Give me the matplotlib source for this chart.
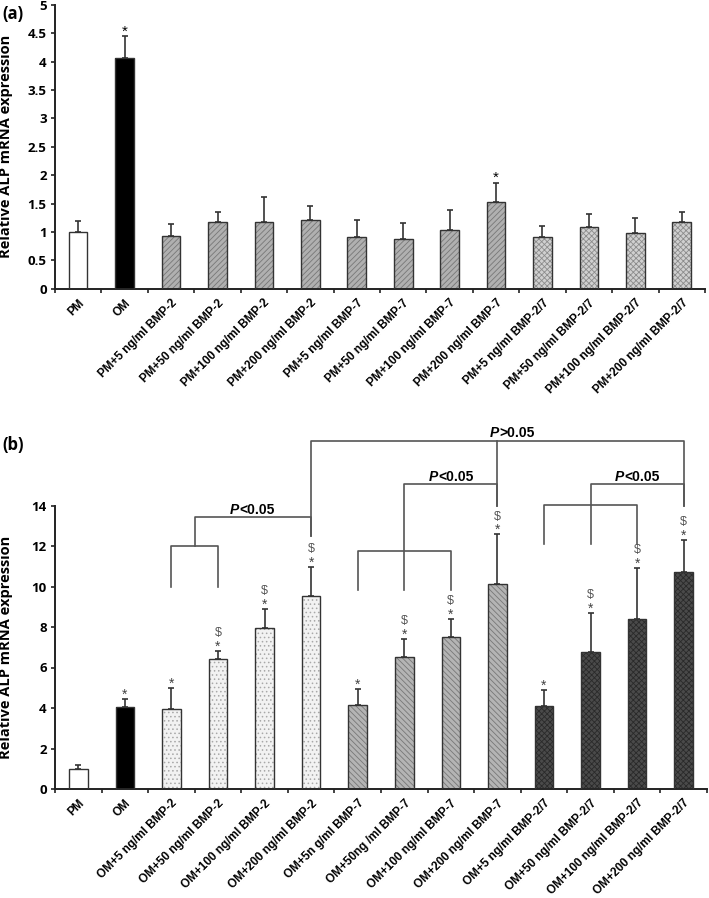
import numpy as np
import matplotlib
matplotlib.use("Agg")
import matplotlib.pyplot as plt

plt.rcParams['hatch.linewidth'] = 0.6

# panel (a) data
cats_a = ['PM', 'OM',
          'PM+5 ng/ml BMP-2', 'PM+50 ng/ml BMP-2', 'PM+100 ng/ml BMP-2', 'PM+200 ng/ml BMP-2',
          'PM+5 ng/ml BMP-7', 'PM+50 ng/ml BMP-7', 'PM+100 ng/ml BMP-7', 'PM+200 ng/ml BMP-7',
          'PM+5 ng/ml BMP-2/7', 'PM+50 ng/ml BMP-2/7', 'PM+100 ng/ml BMP-2/7', 'PM+200 ng/ml BMP-2/7']
vals_a = [1.0, 4.07, 0.93, 1.18, 1.18, 1.21, 0.91, 0.88, 1.04, 1.53, 0.91, 1.08, 0.98, 1.18]
err_a = [0.2, 0.38, 0.21, 0.17, 0.44, 0.24, 0.30, 0.27, 0.34, 0.34, 0.20, 0.23, 0.26, 0.17]
star_a = [1, 9]

# panel (b) data
cats_b = ['PM', 'OM',
          'OM+5 ng/ml BMP-2', 'OM+50 ng/ml BMP-2', 'OM+100 ng/ml BMP-2', 'OM+200 ng/ml BMP-2',
          'OM+5n g/ml BMP-7', 'OM+50ng /ml BMP-7', 'OM+100 ng/ml BMP-7', 'OM+200 ng/ml BMP-7',
          'OM+5 ng/ml BMP-2/7', 'OM+50 ng/ml BMP-2/7', 'OM+100 ng/ml BMP-2/7', 'OM+200 ng/ml BMP-2/7']
vals_b = [1.0, 4.07, 3.93, 6.42, 7.97, 9.53, 4.13, 6.52, 7.49, 10.1, 4.1, 6.75, 8.38, 10.73]
err_b = [0.2, 0.37, 1.07, 0.38, 0.92, 1.45, 0.82, 0.89, 0.92, 2.47, 0.80, 1.94, 2.52, 1.59]
star_b = list(range(1, 14))
dollar_b = [3, 4, 5, 7, 8, 9, 11, 12, 13]

# comparison brackets in (b): polylines (x, y) and p-value labels
brackets_b = [
    ([2, 2, 3, 3], [10, 12, 12, 10]),
    ([2.5, 2.5, 5, 5], [12, 13.43, 13.43, 12.49]),
    ([6, 6, 8, 8], [9.83, 11.75, 11.75, 9.83]),
    ([7, 7, 9, 9], [9.83, 15.05, 15.05, 14.0]),
    ([10, 10, 12, 12], [12.1, 14.02, 14.02, 12.1]),
    ([11, 11, 13, 13], [12.1, 15.05, 15.05, 14.0]),
    ([5, 5, 13, 13], [12.49, 17.19, 17.19, 14.0]),
    ([9, 9], [14.0, 17.19]),
]
plabels_b = [('<0.05', 3.74, 13.43), ('<0.05', 8.0, 15.05),
             ('<0.05', 12.0, 15.05), ('>0.05', 9.32, 17.19)]

# styles: (face, hatch, hatch colour)
st_pm = ('white', '', 'white')
st_om = ('black', '', 'black')
styles_a = [st_pm, st_om] + [('#b0b0b0', '//////', '#777777')] * 8 + [('#d0d0d0', 'xxxxxx', '#8c8c8c')] * 4
styles_b = [st_pm, st_om] + [('#f2f2f2', '....', '#a8a8a8')] * 4 + [('#b4b4b4', '\\\\\\\\\\\\', '#777777')] * 4 \
           + [('#4a4a4a', 'xxxxxx', '#2a2a2a')] * 4

TICKFONT = 'Open Sans'
CATFONT = 'Liberation Sans'


def draw_panel(ax, cats, vals, errs, styles, ymax, ystep):
    x = np.arange(len(cats))
    for i in x:
        fc, h, hc = styles[i]
        ax.bar(i, vals[i], width=0.4, color=fc, hatch=h, edgecolor=hc, linewidth=0, zorder=2)
        ax.bar(i, vals[i], width=0.4, fill=False, edgecolor='#333333', linewidth=1.0, zorder=3)
    ax.errorbar(x, vals, yerr=[np.zeros(len(vals)), errs], fmt='none', ecolor='#333333',
                elinewidth=1.2, capsize=2.5, capthick=1.2, zorder=1)
    ax.set_xlim(-0.5, len(cats) - 0.5)
    ax.set_xticks(np.arange(-0.5, len(cats), 1))
    ax.set_xticklabels([])
    ax.tick_params(axis='x', direction='out', length=3, width=1.2, color='#222222')
    for i, c in enumerate(cats):
        ax.annotate(c, xy=(i, 0), xytext=(3, -9), textcoords='offset points',
                    rotation=45, ha='right', va='center', rotation_mode='anchor',
                    fontsize=8.5, fontweight='bold', fontfamily=CATFONT, annotation_clip=False)
    ticks = np.arange(0, ymax + ystep / 2, ystep)
    ax.set_yticks(ticks)
    ax.set_yticklabels(['{:g}'.format(t) for t in ticks], fontfamily=TICKFONT, fontweight='bold', fontsize=9.5)
    ax.tick_params(axis='y', direction='out', length=3, width=1.2, color='#222222', pad=3)
    for s in ['top', 'right']:
        ax.spines[s].set_visible(False)
    for s in ['left', 'bottom']:
        ax.spines[s].set_linewidth(1.4)
        ax.spines[s].set_color('#222222')
    ax.spines['left'].set_bounds(0, ymax)
    ax.set_ylabel('Relative ALP mRNA expression', fontfamily=TICKFONT, fontweight='bold', fontsize=10.5)


fig = plt.figure(figsize=(7.09, 8.98), dpi=100)

# panel (a)
ax1 = fig.add_axes([55 / 709, 1 - 288.7 / 898, 650 / 709, 283.7 / 898])
draw_panel(ax1, cats_a, vals_a, err_a, styles_a, 5, 0.5)
ax1.set_ylim(0, 5)
ax1.yaxis.set_label_coords(-0.064, 0.5)
for i in star_a:
    ax1.annotate('*', xy=(i, vals_a[i] + err_a[i]), xytext=(0, -1.5), textcoords='offset points',
                 ha='center', va='bottom', fontsize=11, fontfamily=CATFONT)
fig.text(2 / 709, 1 - 14 / 898, '(a)', fontsize=12, fontweight='bold', fontfamily=TICKFONT, va='center')

# panel (b)
ax2 = fig.add_axes([55 / 709, 1 - 789 / 898, 652 / 709, 364.5 / 898])
draw_panel(ax2, cats_b, vals_b, err_b, styles_b, 14, 2)
ax2.set_ylim(0, 18)
ax2.yaxis.set_label_coords(-0.064, 7 / 18)
for i in star_b:
    ax2.annotate('*', xy=(i, vals_b[i] + err_b[i]), xytext=(0, -2), textcoords='offset points',
                 ha='center', va='bottom', fontsize=10, color='#444444', fontfamily=CATFONT)
for i in dollar_b:
    ax2.annotate('$', xy=(i, vals_b[i] + err_b[i]), xytext=(0, 8.5), textcoords='offset points',
                 ha='center', va='bottom', fontsize=9, color='#555555', fontfamily=CATFONT)
for xs, ys in brackets_b:
    ax2.plot(xs, ys, color='#555555', linewidth=1.2, clip_on=False, zorder=4)
for txt, xc, yl in plabels_b:
    tp = ax2.annotate('P', xy=(xc, yl), xytext=(-16, 2.5), textcoords='offset points',
                      ha='left', va='baseline', fontsize=10, fontweight='bold', style='italic',
                      fontfamily=CATFONT, annotation_clip=False)
    ax2.annotate(txt, xy=(1, 0), xycoords=tp, ha='left', va='bottom',
                 fontsize=10, fontweight='bold', fontfamily=CATFONT, annotation_clip=False)
fig.text(2 / 709, 1 - 445 / 898, '(b)', fontsize=12, fontweight='bold', fontfamily=TICKFONT, va='center')

fig.savefig('out.png', dpi=100)
